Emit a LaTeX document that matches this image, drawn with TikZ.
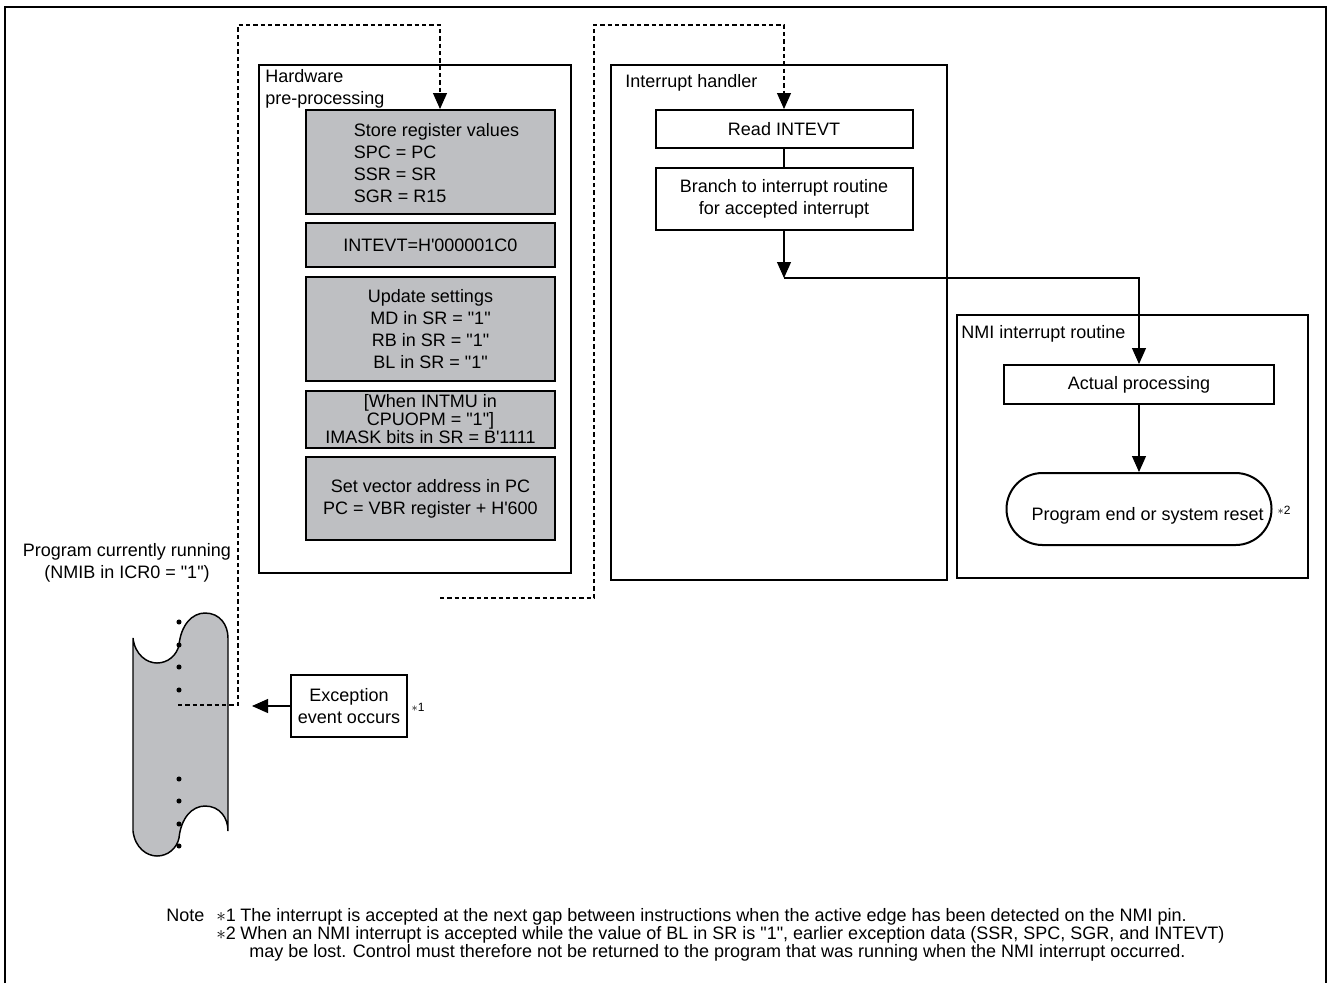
\documentclass[tikz,border=0pt]{standalone}
\usepackage{fontspec}
\newfontfamily\arialf{Liberation Sans}
\usetikzlibrary{arrows.meta,calc,backgrounds}
\definecolor{boxgray}{RGB}{190,191,194}
\newcommand{\mainfnt}{\arialf\fontsize{13.5}{16.5}\selectfont}
\newcommand{\tightfnt}{\arialf\fontsize{13.5}{13.5}\selectfont}
\newcommand{\notefnt}{\arialf\fontsize{13.5}{13.5}\selectfont}
\newcommand{\starfnt}{\arialf\fontsize{9}{10}\selectfont}
\begin{document}
\begin{tikzpicture}[x=0.75pt,y=-0.75pt,
  every node/.style={font=\mainfnt, inner sep=0pt},
  grp/.style={draw, line width=1.8pt},
  gbox/.style={draw, line width=1.5pt, fill=boxgray, align=center},
  wbox/.style={draw, line width=1.5pt, fill=white, align=center},
  conn/.style={line width=0.8pt},
  arr/.style={conn, -{Triangle[length=12pt,width=10.5pt]}},
  dpath/.style={line width=0.8pt, dash pattern=on 3.2pt off 2.3pt},
  darr/.style={dpath, -{Triangle[length=12pt,width=10.5pt]}},
  notetxt/.style={font=\notefnt, anchor=base west},
  star/.style={font=\starfnt}
]
\useasboundingbox (0,0) rectangle (1330,983);
\fill[white] (0,0) rectangle (1330,983);
% outer frame
\draw[line width=2.2pt] (5,983) -- (5,7) -- (1326,7) -- (1326,983);

% group boxes
\node[grp, minimum width=234pt, minimum height=381pt] (hw) at (415,319) {};
\node[anchor=north west, align=left] (hwl) at (265,69) {Hardware\\pre-processing};
\node[grp, minimum width=252pt, minimum height=386.25pt] (ih) at (779,322.5) {};
\node[anchor=west] (ihl) at (625,83) {Interrupt handler};
\node[grp, minimum width=263.25pt, minimum height=197.25pt] (nmi) at (1132.5,446.5) {};
\node[anchor=west] (nmil) at (961,334) {NMI interrupt routine};

% hardware pre-processing steps
\node[gbox, minimum width=186.75pt, minimum height=78pt] (b1) at (430.5,162)
  {\hspace*{9pt}\raisebox{-2.5pt}[\height][\depth]{\begin{tabular}{@{}l@{}}Store register values\\SPC = PC\\SSR = SR\\SGR = R15\end{tabular}}};
\node[gbox, minimum width=186.75pt, minimum height=33pt] (b2) at (430.5,245) {INTEVT=H'000001C0};
\node[gbox, minimum width=186.75pt, minimum height=78pt] (b3) at (430.5,329)
  {Update settings\\MD in SR = "1"\\RB in SR = "1"\\BL in SR = "1"};
\node[gbox, minimum width=186.75pt, minimum height=42.75pt, font=\tightfnt] (b4) at (430.5,419.5)
  {[When INTMU in\\CPUOPM = "1"]\\IMASK bits in SR = B'1111};
\node[gbox, minimum width=186.75pt, minimum height=62.25pt] (b5) at (430.5,498.5)
  {Set vector address in PC\\PC = VBR register + H'600};

% interrupt handler steps
\node[wbox, minimum width=192.75pt, minimum height=28.5pt] (rd) at (784,129) {Read INTEVT};
\node[wbox, minimum width=192.75pt, minimum height=46.5pt] (br) at (784,199)
  {Branch to interrupt routine\\for accepted interrupt};

% NMI routine steps
\node[wbox, minimum width=202.5pt, minimum height=29.25pt] (act) at (1139,384.5) {Actual processing};
\node[wbox, minimum width=198.75pt, minimum height=54pt, rounded corners=27pt] (pe) at (1139,509)
  {\hspace*{13pt}\raisebox{-8.3pt}[0pt][0pt]{Program end or system reset}};
\node[star] (st2) at (1284,510) {$\ast$2};

% exception event
\node[wbox, minimum width=87pt, minimum height=46.5pt] (ex) at (349,706) {Exception\\event occurs};
\node[star] (st1) at (418,707) {$\ast$1};

% program label
\node[align=center] (plab) at (127,563) {Program currently running\\(NMIB in ICR0 = "1")};

% program strip
\filldraw[fill=boxgray, line width=1.1pt]
  (133,638) .. controls (135,655) and (147,663) .. (157,663)
  .. controls (168,663) and (177,655) .. (179,645)
  .. controls (181,625) and (192,613) .. (205,613)
  .. controls (220,613) and (228,625) .. (228,638)
  -- (228,831)
  .. controls (228,818) and (220,806) .. (205,806)
  .. controls (192,806) and (181,818) .. (179,838)
  .. controls (177,848) and (168,856) .. (157,856)
  .. controls (147,856) and (135,848) .. (133,831)
  -- cycle;
\foreach \yy in {622,645,667,690,779,801,824,846}
  \fill (179,\yy) circle[radius=1.9pt];

% connectors
\coordinate (pstart) at (178,705);
\coordinate (c1) at (238,25);
\coordinate (hwin) at ($(b1.north)+(9.5,0)$);
\coordinate (hwout) at (440,598);
\coordinate (c2) at (594,25);
\coordinate (jn) at (784,278);
\coordinate (exend) at (252,706);

\draw[darr] (pstart) -| (c1) -| (hwin);
\begin{scope}[on background layer]
  \draw[dpath] (hwin) -- (hwout);
\end{scope}
\draw[darr] (hwout) -| (c2) -| (rd.north);

\draw[conn] (rd) -- (br);
\draw[arr] (br) -- (jn);
\draw[arr] (jn) -| (act);
\draw[arr] (act) -- (pe);
\draw[arr] (ex) -- (exend);

% notes
\node[notetxt] (note) at (166,921) {Note};
\node[notetxt] (n1s) at (216,921) {$\ast$1};
\node[notetxt] (n1) at (240,921) {The interrupt is accepted at the next gap between instructions when the active edge has been detected on the NMI pin.};
\node[notetxt] (n2s) at (216,939) {$\ast$2};
\node[notetxt] (n2) at (240,939) {When an NMI interrupt is accepted while the value of BL in SR is "1", earlier exception data (SSR, SPC, SGR, and INTEVT)};
\node[notetxt] (n3) at (249,957) {may be lost. Control must therefore not be returned to the program that was running when the NMI interrupt occurred.};
\end{tikzpicture}
\end{document}
